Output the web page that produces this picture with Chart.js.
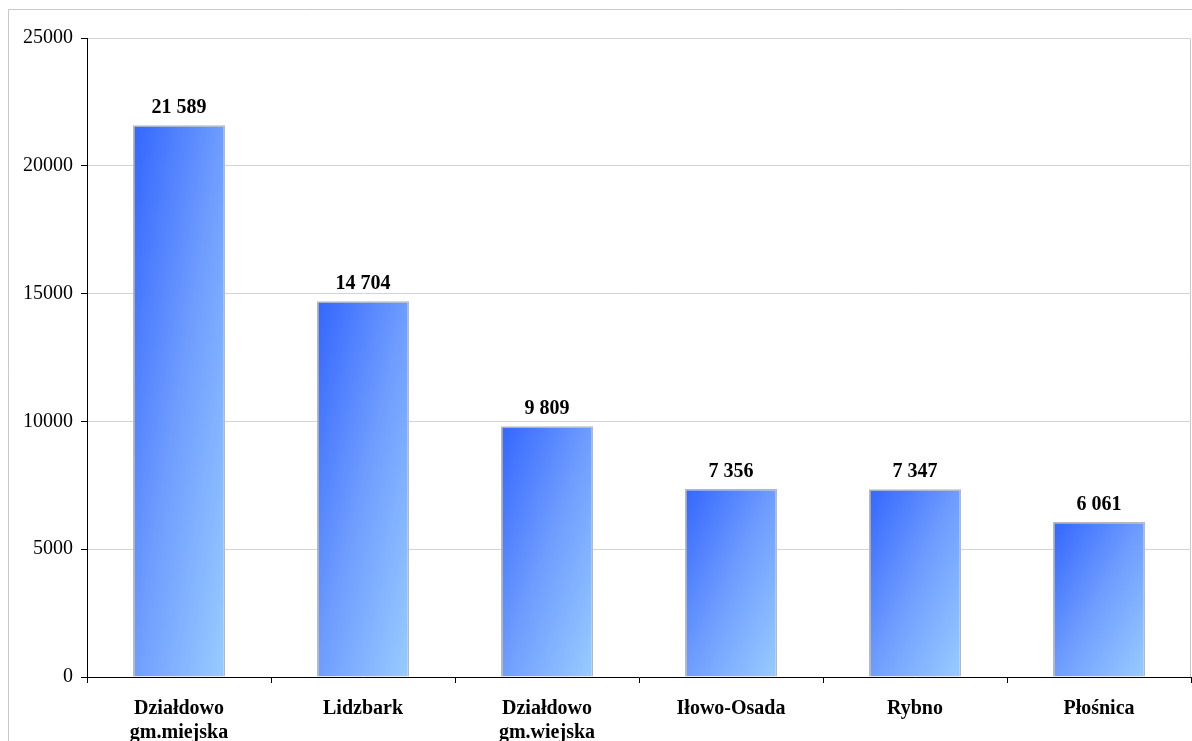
<!DOCTYPE html>
<html><head><meta charset="utf-8">
<script src="https://cdn.jsdelivr.net/npm/chart.js@4/dist/chart.umd.min.js"></script>
<style>html,body{margin:0;padding:0;background:#fff;overflow:hidden;} #wrap{position:relative;width:1192px;height:741px;}</style>
</head><body><div id="wrap"><canvas id="c" width="1192" height="741"></canvas></div>
<script>
const categories = [["Działdowo","gm.miejska"], "Lidzbark", ["Działdowo","gm.wiejska"], "Iłowo-Osada", "Rybno", "Płośnica"];
const values = [21589, 14704, 9809, 7356, 7347, 6061];
const yTicks = [0, 5000, 10000, 15000, 20000, 25000];

const SERIF = '"Liberation Serif", "Times New Roman", serif';
function fmt(v){ return String(v).replace(/\B(?=(\d{3})+(?!\d))/g, ' '); }

function barGradient(ctx){
  const chart = ctx.chart;
  if (!chart.chartArea || ctx.type !== 'data') return '#6699ff';
  const xs = chart.scales.x, ys = chart.scales.y;
  const cx = xs.getPixelForValue(ctx.dataIndex);
  const w = Math.abs(xs.getPixelForValue(1) - xs.getPixelForValue(0)) * 0.5;
  const top = ys.getPixelForValue(ctx.raw);
  const base = ys.getPixelForValue(0);
  const h = Math.max(base - top, 1);
  const l = cx - w/2;
  const gx = 1/(2*w), gy = 1/(2*h);
  const n = gx*gx + gy*gy;
  const g = chart.ctx.createLinearGradient(l, top, l + gx/n, top + gy/n);
  g.addColorStop(0, '#3366ff');
  g.addColorStop(0.5, '#6f9dff');
  g.addColorStop(1, '#99ccff');
  return g;
}

const framePlugin = {
  id: 'frame',
  beforeDraw(chart){
    const c = chart.ctx;
    c.save();
    c.fillStyle = '#fff';
    c.fillRect(0, 0, chart.width, chart.height);
    c.strokeStyle = '#c8c8c8';
    c.lineWidth = 1;
    c.beginPath();
    c.moveTo(8.5, chart.height); c.lineTo(8.5, 9.5); c.lineTo(chart.width, 9.5);
    c.stroke();
    const a = chart.chartArea;
    c.beginPath();
    c.moveTo(a.right - 0.5, a.top); c.lineTo(a.right - 0.5, a.bottom);
    c.stroke();
    c.restore();
  }
};

const labelPlugin = {
  id: 'valueLabels',
  afterDatasetsDraw(chart){
    const c = chart.ctx;
    const meta = chart.getDatasetMeta(0);
    c.save();
    c.font = 'bold 20px ' + SERIF;
    c.fillStyle = '#000';
    c.textAlign = 'center';
    c.textBaseline = 'alphabetic';
    meta.data.forEach((el, i) => {
      c.fillText(fmt(values[i]), el.x, el.y - 12);
    });
    c.restore();
  }
};

new Chart(document.getElementById('c'), {
  type: 'bar',
  data: {
    labels: categories,
    datasets: [{
      data: values,
      backgroundColor: barGradient,
      borderColor: '#b8b8b8',
      borderWidth: 1.5,
      barPercentage: 0.5,
      categoryPercentage: 1.0
    }]
  },
  options: {
    responsive: false,
    devicePixelRatio: 1,
    animation: false,
    layout: { padding: { top: 38, right: 1, left: 0, bottom: 0 } },
    plugins: { legend: { display: false }, tooltip: { enabled: false } },
    scales: {
      x: {
        offset: true,
        grid: { offset: true, drawOnChartArea: false, color: '#000', tickColor: '#000', tickLength: 6 },
        border: { color: '#000', width: 1 },
        ticks: { color: '#000', font: { family: SERIF, size: 20, weight: 'bold', lineHeight: 1.2 }, maxRotation: 0, autoSkip: false, padding: 14 },
        afterFit: s => { s.height = 64; }
      },
      y: {
        min: 0, max: 25000,
        afterBuildTicks: s => { s.ticks = yTicks.map(v => ({ value: v })); },
        grid: { color: '#d4d4d4', tickColor: '#000', tickLength: 6 },
        border: { color: '#000', width: 1 },
        ticks: { color: '#000', font: { family: SERIF, size: 20 }, padding: 8, callback: v => String(v) },
        afterFit: s => { s.width = 87; }
      }
    }
  },
  plugins: [framePlugin, labelPlugin]
});
</script>
</body></html>
